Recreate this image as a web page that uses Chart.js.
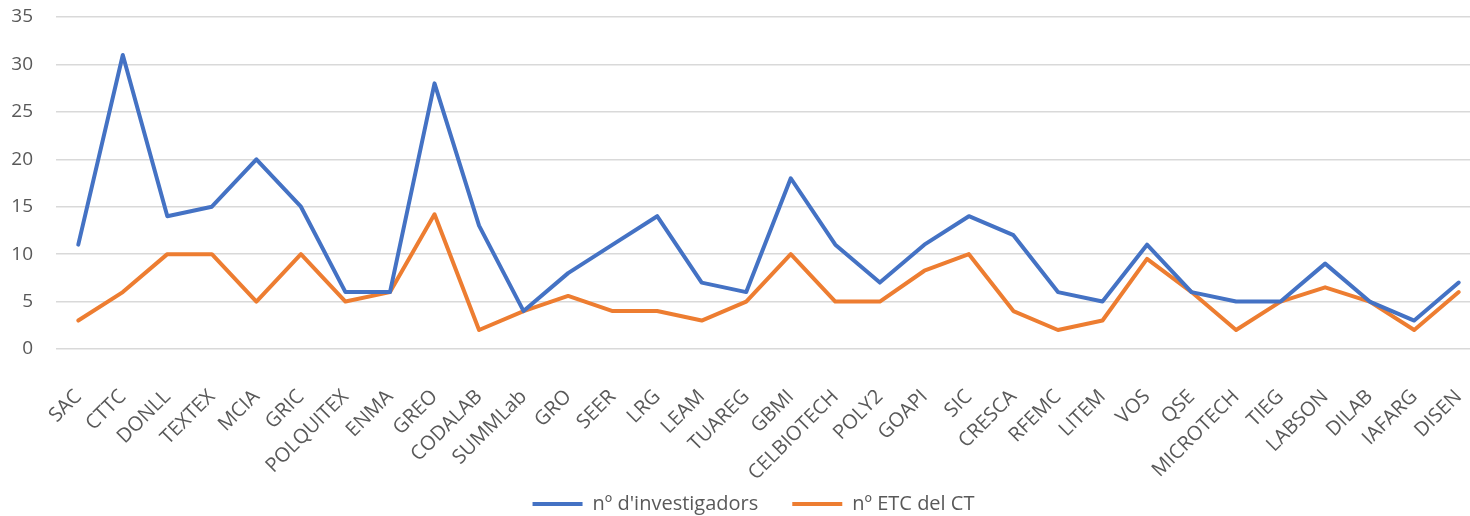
<!DOCTYPE html>
<html>
<head>
<meta charset="utf-8">
<script src="https://cdn.jsdelivr.net/npm/chart.js@4"></script>
<style>
  html, body { margin: 0; padding: 0; background: #fff; overflow: hidden; }
  #wrap { position: relative; width: 1481px; height: 524px; }
</style>
</head>
<body>
<div id="wrap"><canvas id="chart"></canvas></div>
<script>
// categories (grups de recerca)
const grups = ["SAC", "CTTC", "DONLL", "TEXTEX", "MCIA", "GRIC", "POLQUITEX", "ENMA", "GREO", "CODALAB",
  "SUMMLab", "GRO", "SEER", "LRG", "LEAM", "TUAREG", "GBMI", "CELBIOTECH", "POLY2", "GOAPI",
  "SIC", "CRESCA", "RFEMC", "LITEM", "VOS", "QSE", "MICROTECH", "TIEG", "LABSON", "DILAB",
  "IAFARG", "DISEN"];

// nº d'investigadors
const investigadors = [11, 31, 14, 15, 20, 15, 6, 6, 28, 13,
  4, 8, 11, 14, 7, 6, 18, 11, 7, 11,
  14, 12, 6, 5, 11, 6, 5, 5, 9, 5,
  3, 7];

// nº ETC del CT
const etc = [3, 6, 10, 10, 5, 10, 5, 6, 14.2, 2,
  4, 5.6, 4, 4, 3, 5, 10, 5, 5, 8.25,
  10, 4, 2, 3, 9.5, 6, 2, 5, 6.5, 5,
  2, 6];

const yTicks = [0, 5, 10, 15, 20, 25, 30, 35];

const textColor = "#595959";
const fontFamily = "'Open Sans', sans-serif";

// la llegenda no queda centrada al mig exacte del llenç,
// i les etiquetes llargues de l'eix X no s'han de retallar
const ajustos = {
  id: "ajustos",
  afterLayout(chart) {
    chart.legend.left += 13;
    chart.legend.right += 13;
    chart.scales.x.bottom = chart.legend.top + 40;
  }
};

new Chart(document.getElementById("chart"), {
  type: "line",
  data: {
    labels: grups,
    datasets: [
      {
        label: "nº d'investigadors",
        data: investigadors,
        borderColor: "#4472C4",
        backgroundColor: "#4472C4",
        borderWidth: 4,
        borderCapStyle: "round",
        borderJoinStyle: "round",
        pointRadius: 0,
        tension: 0,
      },
      {
        label: "nº ETC del CT",
        data: etc,
        borderColor: "#ED7D31",
        backgroundColor: "#ED7D31",
        borderWidth: 4,
        borderCapStyle: "round",
        borderJoinStyle: "round",
        pointRadius: 0,
        tension: 0,
      },
    ],
  },
  options: {
    responsive: true,
    maintainAspectRatio: false,
    animation: false,
    layout: { padding: { top: 17, left: 0, right: 0, bottom: 0 } },
    plugins: {
      legend: {
        position: "bottom",
        labels: {
          usePointStyle: true,
          pointStyle: "line",
          pointStyleWidth: 50,
          padding: 34,
          color: textColor,
          font: { family: fontFamily, size: 20 },
        },
      },
      tooltip: { enabled: false },
    },
    scales: {
      x: {
        offset: true,
        grid: {
          display: true,
          drawOnChartArea: false,
          drawTicks: true,
          tickLength: 36,
          tickColor: "rgba(0,0,0,0)",
        },
        border: { display: false },
        ticks: {
          color: textColor,
          font: { family: fontFamily, size: 20 },
          minRotation: 45,
          maxRotation: 45,
          autoSkip: false,
          padding: 0,
        },
        afterFit(scale) {
          scale.height = 111;
        },
      },
      y: {
        min: 0,
        max: 35,
        afterBuildTicks(scale) {
          scale.ticks = yTicks.map((v) => ({ value: v }));
        },
        grid: {
          color: "#d9d9d9",
          lineWidth: 1.5,
          drawTicks: true,
          tickLength: 23,
          tickColor: "rgba(0,0,0,0)",
        },
        border: { display: false },
        ticks: {
          color: textColor,
          font: { family: fontFamily, size: 19 },
          padding: 0,
        },
        afterFit(scale) {
          scale.width = 56;
        },
      },
    },
  },
  plugins: [ajustos],
});
</script>
</body>
</html>
